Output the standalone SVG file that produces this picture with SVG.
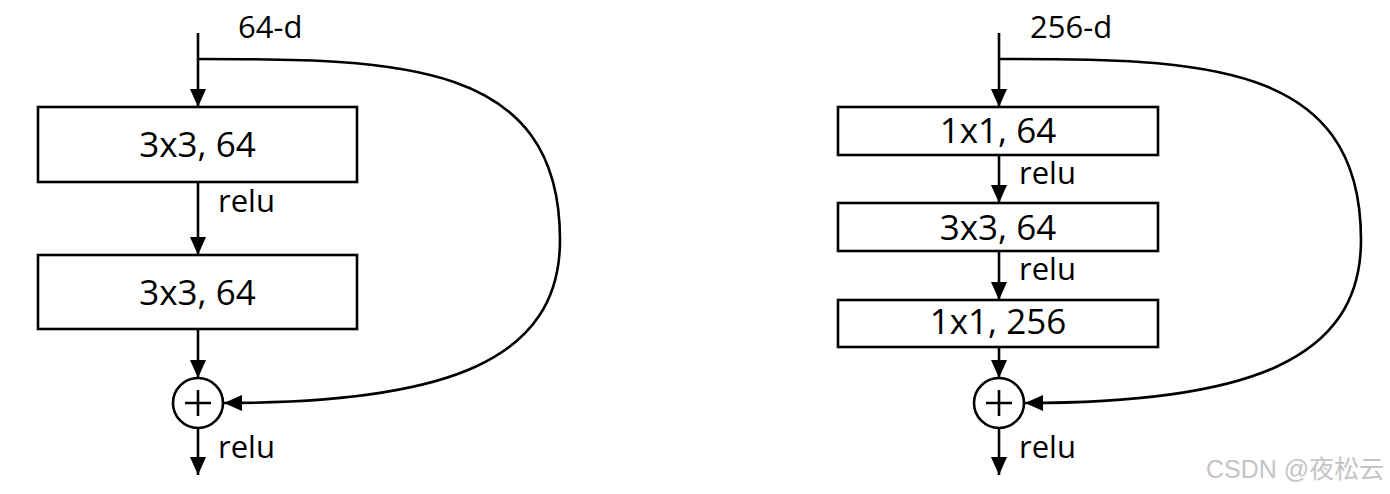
<svg xmlns="http://www.w3.org/2000/svg" width="1390" height="494" viewBox="0 0 1390 494">
<style>
.box{fill:#fff;stroke:#000;stroke-width:2.6}
.ln{fill:none;stroke:#000;stroke-width:2.6}
.lbl{font-family:"Open Sans","Liberation Sans",sans-serif;font-size:31px;fill:#000}
.bt{font-family:"Open Sans","Liberation Sans",sans-serif;font-size:35px;fill:#000;text-anchor:middle}
.wm{font-family:"Liberation Sans","Noto Sans CJK SC",sans-serif;font-size:25px;fill:#c4c4c4}
</style>
<defs>
<marker id="ah" markerUnits="userSpaceOnUse" markerWidth="19" markerHeight="17" refX="18" refY="8.5" orient="auto">
<path d="M0,0.5 L18,8.5 L0,16.5 Z" fill="#000"/>
</marker>
</defs>
<rect width="1390" height="494" fill="#fff"/>
<g id="connectors">
<path class="ln" d="M198,33 V107" marker-end="url(#ah)"/>
<path class="ln" d="M198,182 V255" marker-end="url(#ah)"/>
<path class="ln" d="M198,329 V378" marker-end="url(#ah)"/>
<path class="ln" d="M198,428 V475" marker-end="url(#ah)"/>
<path class="ln" d="M198,59 C398,59 560,60 560,240 C560,360 448,403 224,403" marker-end="url(#ah)"/>
<path class="ln" d="M999,33 V107" marker-end="url(#ah)"/>
<path class="ln" d="M999,155 V203" marker-end="url(#ah)"/>
<path class="ln" d="M999,251 V300" marker-end="url(#ah)"/>
<path class="ln" d="M999,347 V378" marker-end="url(#ah)"/>
<path class="ln" d="M999,428 V475" marker-end="url(#ah)"/>
<path class="ln" d="M999,59 C1199,59 1361,60 1361,240 C1361,360 1249,403 1025,403" marker-end="url(#ah)"/>
</g>
<g id="left-input"><text class="lbl" x="238" y="38">64-d</text></g>
<g id="left-conv1"><rect class="box" x="38" y="107" width="319" height="75"/><text class="bt" x="197.5" y="157">3x3, 64</text></g>
<g id="left-relu1"><text class="lbl" x="218" y="212">relu</text></g>
<g id="left-conv2"><rect class="box" x="38" y="255" width="319" height="74"/><text class="bt" x="197.5" y="305">3x3, 64</text></g>
<g id="left-add"><circle class="ln" cx="198" cy="403" r="25"/><path class="ln" d="M185,403 H211 M198,390 V416"/></g>
<g id="left-relu2"><text class="lbl" x="218" y="458">relu</text></g>
<g id="right-input"><text class="lbl" x="1030" y="38">256-d</text></g>
<g id="right-conv1"><rect class="box" x="838" y="107" width="320" height="48"/><text class="bt" x="998" y="143">1x1, 64</text></g>
<g id="right-relu1"><text class="lbl" x="1019" y="184">relu</text></g>
<g id="right-conv2"><rect class="box" x="838" y="203" width="320" height="48"/><text class="bt" x="998" y="240">3x3, 64</text></g>
<g id="right-relu2"><text class="lbl" x="1019" y="280">relu</text></g>
<g id="right-conv3"><rect class="box" x="838" y="300" width="320" height="47"/><text class="bt" x="998" y="334">1x1, 256</text></g>
<g id="right-add"><circle class="ln" cx="999" cy="403" r="25"/><path class="ln" d="M986,403 H1012 M999,390 V416"/></g>
<g id="right-relu3"><text class="lbl" x="1019" y="458">relu</text></g>
<text class="wm" x="1206" y="478">CSDN @夜松云</text>
</svg>
